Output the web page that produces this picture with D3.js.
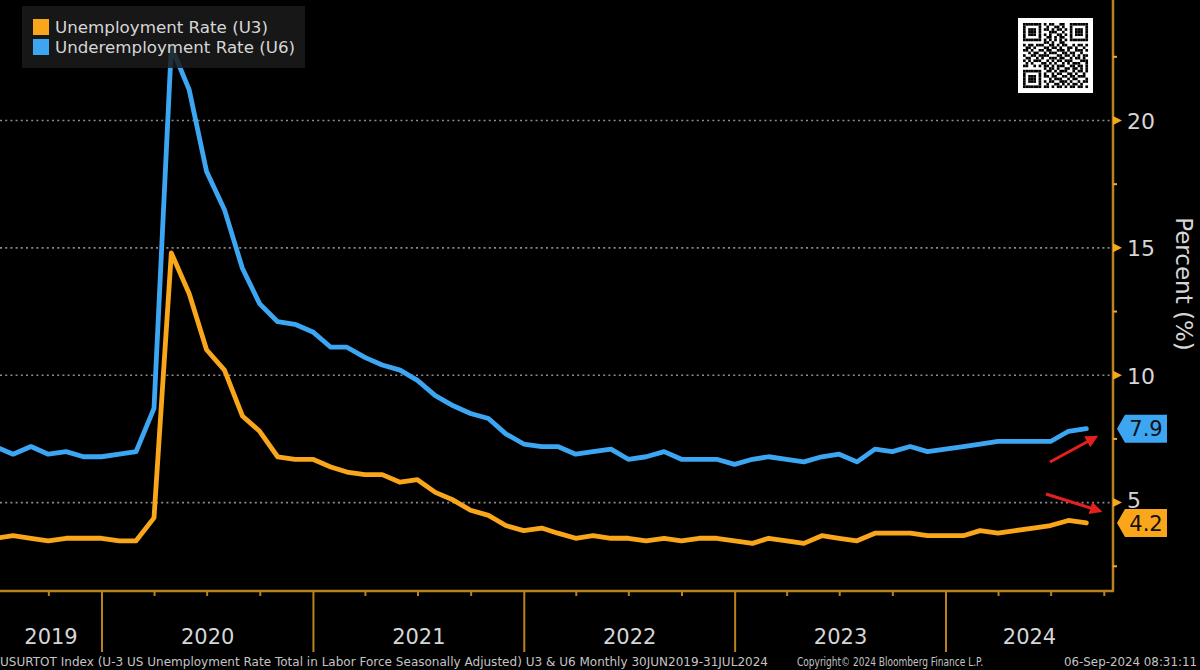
<!DOCTYPE html>
<html>
<head>
<meta charset="utf-8">
<script src="https://cdn.jsdelivr.net/npm/d3@7/dist/d3.min.js"></script>
<style>
  html, body { margin: 0; padding: 0; background: #000; }
  svg { display: block; }
</style>
</head>
<body>
<svg id="chart" width="1200" height="670"></svg>
<script>
// ---------------- DATA ----------------
const startMonth = "2019-06"; // first monthly observation (month-end)
const seriesNames = ["Unemployment Rate (U3)", "Underemployment Rate (U6)"];
const u3 = [3.6,3.7,3.6,3.5,3.6,3.6,3.6,
            3.5,3.5,4.4,14.8,13.2,11.0,10.2,8.4,7.8,6.8,6.7,6.7,
            6.4,6.2,6.1,6.1,5.8,5.9,5.4,5.1,4.7,4.5,4.1,3.9,
            4.0,3.8,3.6,3.7,3.6,3.6,3.5,3.6,3.5,3.6,3.6,3.5,
            3.4,3.6,3.5,3.4,3.7,3.6,3.5,3.8,3.8,3.8,3.7,3.7,
            3.7,3.9,3.8,3.9,4.0,4.1,4.3,4.2];
const u6 = [7.2,6.9,7.2,6.9,7.0,6.8,6.8,
            6.9,7.0,8.7,22.9,21.2,18.0,16.5,14.2,12.8,12.1,12.0,11.7,
            11.1,11.1,10.7,10.4,10.2,9.8,9.2,8.8,8.5,8.3,7.7,7.3,
            7.2,7.2,6.9,7.0,7.1,6.7,6.8,7.0,6.7,6.7,6.7,6.5,
            6.7,6.8,6.7,6.6,6.8,6.9,6.6,7.1,7.0,7.2,7.0,7.1,
            7.2,7.3,7.4,7.4,7.4,7.4,7.8,7.9];
const yMajorTicks = [5, 10, 15, 20];
const yMinorTicks = [2.5, 7.5, 12.5, 17.5, 22.5];
const yearLabels = ["2019", "2020", "2021", "2022", "2023", "2024"];
const lastLabels = ["4.2", "7.9"];
const axisTitle = "Percent (%)";
const footerLeft = "USURTOT Index (U-3 US Unemployment Rate Total in Labor Force Seasonally Adjusted) U3 & U6  Monthly 30JUN2019-31JUL2024";
const footerMid = "Copyright\u00A9 2024 Bloomberg Finance L.P.";
const footerRight = "06-Sep-2024 08:31:11";

// ---------------- SETUP ----------------
const W = 1200, H = 670;
const plot = { left: 0, right: 1113, top: 0, bottom: 591 };
const C = {
  u3: "#F9A61B", u6: "#3DA6F2", axis: "#B8831C", tri: "#F5A81E",
  grid: "#8a8a8a", text: "#d6d6d6", footer: "#c4c4c4", red: "#E3201E"
};
const FONT = "'DejaVu Sans', Verdana, sans-serif";

const svg = d3.select("#chart");
svg.append("rect").attr("width", W).attr("height", H).attr("fill", "#000");

const [sy, sm] = startMonth.split("-").map(Number);
const dates = u3.map((_, i) => new Date(sy, sm - 1 + i + 1, 0)); // month-end dates

const x = d3.scaleTime()
  .domain([new Date(2020, 0, 1), new Date(2024, 0, 1)])
  .range([102, 946]);
const y = d3.scaleLinear().domain([1.53, 24.73]).range([plot.bottom, plot.top]);

const defs = svg.append("defs");
defs.append("clipPath").attr("id", "clip")
  .append("rect").attr("x", plot.left).attr("y", plot.top)
  .attr("width", plot.right - plot.left).attr("height", plot.bottom - plot.top);

// ---------------- GRID ----------------
svg.append("g").selectAll("line").data(yMajorTicks).join("line")
  .attr("x1", plot.left).attr("x2", plot.right)
  .attr("y1", d => y(d)).attr("y2", d => y(d))
  .attr("stroke", C.grid).attr("stroke-width", 1.6)
  .attr("stroke-dasharray", "2,3.2");

// ---------------- LINES ----------------
const line = d3.line().x((d, i) => x(dates[i])).y(d => y(d));
const gLines = svg.append("g").attr("clip-path", "url(#clip)");
[[u6, C.u6], [u3, C.u3]].forEach(([vals, col]) => {
  gLines.append("path").datum(vals).attr("d", line)
    .attr("fill", "none").attr("stroke", col).attr("stroke-width", 4.8)
    .attr("stroke-linejoin", "round").attr("stroke-linecap", "round");
});

// ---------------- RIGHT AXIS ----------------
const gy = svg.append("g");
gy.append("line").attr("x1", plot.right).attr("x2", plot.right)
  .attr("y1", 0).attr("y2", plot.bottom)
  .attr("stroke", C.axis).attr("stroke-width", 2.5);
gy.selectAll("path.tri").data(yMajorTicks).join("path").attr("class", "tri")
  .attr("d", d => `M${plot.right},${y(d) - 4.5}L${plot.right + 9},${y(d)}L${plot.right},${y(d) + 4.5}Z`)
  .attr("fill", C.tri);
gy.selectAll("line.minor").data(yMinorTicks).join("line").attr("class", "minor")
  .attr("x1", plot.right).attr("x2", plot.right + 4)
  .attr("y1", d => y(d)).attr("y2", d => y(d))
  .attr("stroke", C.tri).attr("stroke-width", 2);
const yAxis = d3.axisRight(y).tickValues(yMajorTicks).tickSize(0).tickPadding(0);
const gyl = svg.append("g").attr("transform", `translate(${plot.right + 14},0)`).call(yAxis);
gyl.select(".domain").remove();
gyl.selectAll("text").attr("fill", C.text).attr("font-family", FONT).attr("font-size", 22)
  .attr("dy", d => d === 5 ? "0.2em" : "0.36em");

svg.append("text").text(axisTitle)
  .attr("transform", "translate(1176,284) rotate(90)")
  .attr("text-anchor", "middle").attr("fill", C.text)
  .attr("font-family", FONT).attr("font-size", 23);

// ---------------- BOTTOM AXIS ----------------
const gx = svg.append("g");
gx.append("line").attr("x1", 0).attr("x2", plot.right + 1)
  .attr("y1", plot.bottom).attr("y2", plot.bottom)
  .attr("stroke", C.axis).attr("stroke-width", 2.5);
const years = d3.timeYear.range(new Date(2020, 0, 1), new Date(2025, 0, 1));
gx.selectAll("line.sep").data(years).join("line").attr("class", "sep")
  .attr("x1", d => x(d)).attr("x2", d => x(d))
  .attr("y1", plot.bottom).attr("y2", 652)
  .attr("stroke", C.axis).attr("stroke-width", 2);
const quarters = d3.timeMonth.every(3).range(new Date(2019, 3, 1), new Date(2024, 10, 1))
  .filter(d => d.getMonth() !== 0 && x(d) > 0 && x(d) < plot.right);
gx.selectAll("line.q").data(quarters).join("line").attr("class", "q")
  .attr("x1", d => x(d)).attr("x2", d => x(d))
  .attr("y1", plot.bottom).attr("y2", plot.bottom + 5)
  .attr("stroke", C.axis).attr("stroke-width", 2);
gx.selectAll("text.yr").data(yearLabels).join("text").attr("class", "yr")
  .attr("x", d => {
    const a = Math.max(0, x(new Date(+d, 0, 1)));
    const b = Math.min(plot.right, x(new Date(+d + 1, 0, 1)));
    return (a + b) / 2;
  })
  .attr("y", 644).attr("text-anchor", "middle")
  .attr("fill", C.text).attr("font-family", FONT).attr("font-size", 21)
  .text(d => d);

// ---------------- LAST VALUE FLAGS ----------------
const flags = [
  { v: u3[u3.length - 1], label: lastLabels[0], col: C.u3 },
  { v: u6[u6.length - 1], label: lastLabels[1], col: C.u6 }
];
flags.forEach(f => {
  const yc = y(f.v), x0 = plot.right + 4;
  svg.append("path")
    .attr("d", `M${x0},${yc}L${x0 + 8},${yc - 14}L${x0 + 50},${yc - 14}L${x0 + 50},${yc + 14}L${x0 + 8},${yc + 14}Z`)
    .attr("fill", f.col);
  svg.append("text").text(f.label)
    .attr("x", x0 + 29).attr("y", yc).attr("dy", "0.36em")
    .attr("text-anchor", "middle").attr("fill", "#111")
    .attr("font-family", FONT).attr("font-size", 21);
});

// ---------------- RED ARROWS ----------------
defs.append("marker").attr("id", "arr").attr("viewBox", "0 0 10 10")
  .attr("refX", 8).attr("refY", 5).attr("markerWidth", 4.2).attr("markerHeight", 4.2)
  .attr("orient", "auto")
  .append("path").attr("d", "M0,0L10,5L0,10Z").attr("fill", C.red);
const arrows = [[[1050, 462], [1096, 437]], [[1046, 494], [1100, 511]]];
svg.append("g").selectAll("line").data(arrows).join("line")
  .attr("x1", d => d[0][0]).attr("y1", d => d[0][1])
  .attr("x2", d => d[1][0]).attr("y2", d => d[1][1])
  .attr("stroke", C.red).attr("stroke-width", 3)
  .attr("marker-end", "url(#arr)");

// ---------------- LEGEND ----------------
const lg = svg.append("g");
lg.append("rect").attr("x", 22).attr("y", 6).attr("width", 283).attr("height", 62)
  .attr("fill", "#1b1b1b").attr("fill-opacity", 0.85);
seriesNames.forEach((name, i) => {
  lg.append("rect").attr("x", 33).attr("y", 19 + i * 20).attr("width", 16).attr("height", 16)
    .attr("fill", i === 0 ? C.u3 : C.u6);
  lg.append("text").text(name).attr("x", 55).attr("y", 33 + i * 20)
    .attr("fill", C.text).attr("font-family", FONT).attr("font-size", 16)
    .attr("textLength", i === 0 ? 213 : 240).attr("lengthAdjust", "spacingAndGlyphs");
});

// ---------------- QR-LIKE MARK ----------------
const qrRows = [
  "1111111010110011001111111",
  "1000001001001101001000001",
  "1011101011010110101011101",
  "1011101000111001001011101",
  "1011101010100110101011101",
  "1000001001101011001000001",
  "1111111010101010101111111",
  "0000000011010011000000000",
  "1011011100110101100101101",
  "0110100011011010011010010",
  "1101001101100111010011101",
  "0010110010111001101100100",
  "1001101111000110110101011",
  "0110010100111011001011010",
  "1010111001010110111000111",
  "0101000110101001010111001",
  "1100101011010111001101101",
  "0000000010110100110110101",
  "1111111001101011100101101",
  "1000001010010110011010010",
  "1011101011011001101101110",
  "1011101000101110010110001",
  "1011101010110011101001011",
  "1000001001001101010110100",
  "1111111011010110101101101"
];
const qx = 1018, qy = 18, qs = 75, cell = 2.6;
const qg = svg.append("g");
qg.append("rect").attr("x", qx).attr("y", qy).attr("width", qs).attr("height", qs).attr("fill", "#fff");
const off = (qs - 25 * cell) / 2;
qrRows.forEach((row, r) => {
  row.split("").forEach((c, k) => {
    if (c === "1") qg.append("rect")
      .attr("x", qx + off + k * cell).attr("y", qy + off + r * cell)
      .attr("width", cell + 0.05).attr("height", cell + 0.05).attr("fill", "#000");
  });
});

// ---------------- FOOTER ----------------
const ft = svg.append("g").attr("fill", C.footer).attr("font-family", FONT).attr("font-size", 11.5);
ft.append("text").text(footerLeft).attr("x", 0).attr("y", 666)
  .attr("textLength", 768).attr("lengthAdjust", "spacingAndGlyphs");
ft.append("text").text(footerMid).attr("x", 797).attr("y", 666)
  .attr("textLength", 186).attr("lengthAdjust", "spacingAndGlyphs");
ft.append("text").text(footerRight).attr("x", 1064).attr("y", 666)
  .attr("textLength", 133).attr("lengthAdjust", "spacingAndGlyphs");
</script>
</body>
</html>
